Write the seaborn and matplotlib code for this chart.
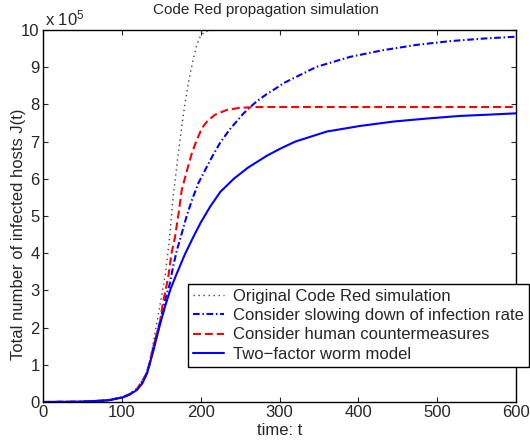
import matplotlib
matplotlib.use('Agg')
import matplotlib.pyplot as plt
import seaborn as sns
import numpy as np
import pandas as pd

# values, J(t) in units of 1e5
t_orig = [0, 50, 80, 100, 110, 120, 130, 135, 140, 145, 150, 155, 160, 165, 170, 175, 180,
          185, 190, 195, 200, 205, 210, 220, 240, 300, 400, 500, 600]
j_orig = [0, 0.01, 0.04, 0.12, 0.21, 0.37, 0.72, 1.05, 1.6, 2.2, 2.8, 3.4, 4.3, 5.5, 6.4,
          7.25, 8.0, 8.65, 9.15, 9.6, 9.85, 9.95, 9.98, 10, 10, 10, 10, 10, 10]

t_slow = [0, 50, 80, 100, 110, 120, 130, 135, 140, 150, 155, 161, 165, 170, 176, 182, 189,
          197, 208, 216, 225, 237, 254, 263, 271, 284, 299, 305, 347, 390, 432, 474, 516,
          559, 600]
j_slow = [0, 0.01, 0.04, 0.12, 0.21, 0.36, 0.7, 1.0, 1.45, 2.3, 2.75, 3.19, 3.64, 4.09,
          4.53, 4.98, 5.43, 5.88, 6.33, 6.65, 6.98, 7.33, 7.75, 7.93, 8.08, 8.28, 8.48,
          8.57, 9.01, 9.28, 9.46, 9.60, 9.70, 9.77, 9.82]

t_human = [0, 50, 80, 100, 110, 120, 130, 135, 140, 148, 152, 159, 163, 167.5, 172, 176,
           184, 189, 195, 200, 203, 208, 218, 233, 250, 275, 300, 400, 500, 600]
j_human = [0, 0.01, 0.04, 0.12, 0.21, 0.37, 0.71, 1.02, 1.5, 2.1, 2.65, 3.37, 4.0, 4.44,
           5.07, 5.70, 6.33, 6.70, 7.04, 7.28, 7.40, 7.54, 7.72, 7.85, 7.91, 7.93, 7.93,
           7.93, 7.93, 7.93]

t_two = [0, 50, 85, 102, 110, 119, 126, 132, 140, 148, 155, 162, 170, 180, 191, 200, 212,
         225, 242, 260, 284, 300, 320, 360, 402, 445, 487, 529, 571, 600]
j_two = [0, 0.01, 0.05, 0.13, 0.2, 0.32, 0.5, 0.77, 1.38, 2.05, 2.58, 3.05, 3.47, 3.97,
         4.45, 4.82, 5.25, 5.65, 6.0, 6.30, 6.62, 6.80, 7.0, 7.27, 7.42, 7.54, 7.62,
         7.69, 7.73, 7.76]

labels = ['Original Code Red simulation',
          'Consider slowing down of infection rate',
          'Consider human countermeasures',
          'Two\u2212factor worm model']

sns.set_style('ticks', {'xtick.direction': 'in', 'ytick.direction': 'in',
                        'axes.edgecolor': 'black'})
plt.rcParams['font.family'] = ['Liberation Sans', 'DejaVu Sans']
plt.rcParams['mathtext.fontset'] = 'custom'
plt.rcParams['mathtext.rm'] = 'Liberation Sans'
plt.rcParams['mathtext.it'] = 'Liberation Sans'
plt.rcParams['font.size'] = 12

fig = plt.figure(figsize=(5.3, 4.45), dpi=100)
ax = fig.add_axes([43 / 530, 43 / 445, 473 / 530, 372 / 445])

sns.lineplot(x=t_orig, y=j_orig, ax=ax, color='#444444', lw=1.0,
             linestyle=(0, (1, 2.6)), label=labels[0])
sns.lineplot(x=t_slow, y=j_slow, ax=ax, color='#0000ff', lw=1.5,
             linestyle=(0, (3.2, 1.3, 0.7, 1.3)), label=labels[1])
sns.lineplot(x=t_human, y=j_human, ax=ax, color='#ff0000', lw=1.5,
             linestyle=(0, (3.8, 1.9)), label=labels[2])
sns.lineplot(x=t_two, y=j_two, ax=ax, color='#0000ff', lw=1.5,
             linestyle='-', label=labels[3])

ax.set_xlim(0, 600)
ax.set_ylim(0, 10)
ax.set_xticks(np.arange(0, 601, 100))
ax.set_yticks(np.arange(0, 11, 1))
ax.tick_params(axis='both', which='both', direction='in', top=True, right=True,
               length=3.5, width=0.8, labelsize=12, pad=2.5)
for s in ax.spines.values():
    s.set_linewidth(1.0)
    s.set_visible(True)

ax.set_xlabel('time: t', fontsize=12, labelpad=2)
ax.set_ylabel('Total number of infected hosts J(t)', fontsize=12)
ax.yaxis.set_label_coords(-0.036, 0.45)
ax.text(0.471, 1.035, 'Code Red propagation simulation', transform=ax.transAxes,
        ha='center', va='bottom', fontsize=11)
ax.text(0.004, 1.013, r'x 10$^5$', transform=ax.transAxes, ha='left',
        va='baseline', fontsize=12)

leg = ax.legend(loc='upper left', bbox_to_anchor=(0.3066, 0.317), borderaxespad=0,
                fontsize=12, handlelength=1.85, handletextpad=0.55, labelspacing=0.25,
                borderpad=0.3, fancybox=False, framealpha=1, edgecolor='black')
leg.get_frame().set_linewidth(1.0)

fig.savefig('out.png', dpi=100)
